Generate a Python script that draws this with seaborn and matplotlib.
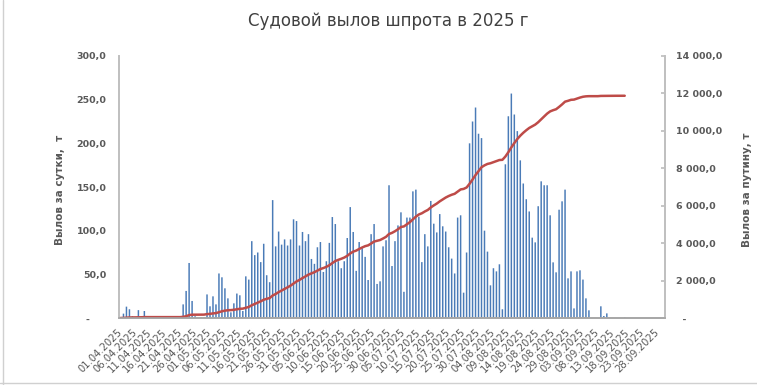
import numpy as np
import pandas as pd
import matplotlib
matplotlib.use("Agg")
import matplotlib.pyplot as plt
import seaborn as sns
from matplotlib.lines import Line2D

# ---- data (t per day), 01.04.2025 - 30.09.2025 ----
april = [0, 5, 13, 10, 2, 0, 9, 0, 8, 0, 0, 0, 0, 0, 0, 0, 0, 0, 0, 0,
         0, 15.6, 31, 63, 19.5, 2, 0, 1, 1, 27]
may = [13.4, 24.8, 15.6, 51, 46.6, 34, 22.5, 6.5, 16.8, 28,
       26, 8, 47.7, 44, 88, 72, 75, 64, 85, 49,
       41, 135, 82, 99, 84, 90, 83, 90, 113, 111, 83]
june = [98.5, 88, 96, 67.6, 62, 81, 87, 52.7, 65, 86,
        115.6, 107.6, 65, 57, 65, 91.6, 127, 98.5, 54, 87,
        80, 70, 43.5, 96, 107.6, 39, 42, 82, 89, 152]
july = [59.5, 88, 106, 121, 30, 115, 115, 145, 147, 116,
        64, 96, 82, 134, 108, 98, 119, 105, 99, 81,
        68, 51, 115, 117.6, 29, 75, 200, 225, 241, 211, 206]
august = [100, 76, 37.4, 57, 53.4, 61.5, 10, 176, 231, 257,
          233, 214, 180.5, 154, 136, 122, 92, 86.6, 128, 156.5,
          152, 152, 117.6, 63.7, 52.3, 124, 133.6, 147, 45.4, 53.4, 11]
september = [53.4, 54.6, 44, 22.5, 8.8, 0, 0, 0, 13.4, 2.3,
             5.3, 0, 0, 0, 0, 0, 1, 0, 0, 0,
             0, 0, 0, 0, 0, 0, 0, 0, 0, 0]

daily = np.array(april + may + june + july + august + september, dtype=float)
dates = pd.date_range("2025-04-01", periods=len(daily), freq="D")
date_labels = [d.strftime("%d.%m.%Y") for d in dates]
idx = np.arange(len(daily))

cumulative = np.cumsum(daily)
last_day = np.nonzero(daily)[0].max()
cumulative[last_day + 1:] = np.nan

df = pd.DataFrame({"day": idx, "daily": daily, "cum": cumulative})

title = "Судовой вылов шпрота в 2025 г"
left_label = "Вылов за сутки,  т"
right_label = "Вылов за путину, т"
left_ticks = [0, 50, 100, 150, 200, 250, 300]
right_ticks = [0, 2000, 4000, 6000, 8000, 10000, 12000, 14000]

# ---- style ----
sns.set_theme(style="white")
plt.rcParams["font.family"] = ["DejaVu Sans"]

BAR = "#4A7BB7"
LINE = "#BE4B48"
TXT = "#595959"
SPINE = "#BFBFBF"

fig = plt.figure(figsize=(7.57, 3.85), dpi=100)
ax = fig.add_axes([119 / 757, 1 - 318 / 385, (665 - 119) / 757, (318 - 56) / 385])

sns.barplot(data=df, x="day", y="daily", ax=ax, color=BAR, width=0.5,
            saturation=1, order=list(idx), errorbar=None, linewidth=0)
for p in ax.patches:
    p.set_snap(False)
    p.set_antialiased(True)
ax.set_xlim(-0.5, len(daily) - 0.5)
ax.set_ylim(0, 300)
ax.set_yticks(left_ticks)
ax.set_yticklabels([("-     " if v == 0 else f"{v:.1f}".replace(".", ",")) for v in left_ticks],
                   fontsize=6.8, fontweight="bold", color=TXT)
ax.set_xticks(idx[::5])
ax.set_xticklabels(date_labels[::5], rotation=45, ha="right", va="center",
                   rotation_mode="anchor", fontsize=7.2, color=TXT)
ax.tick_params(axis="x", length=0, pad=9)
ax.tick_params(axis="y", length=0, pad=9)
ax.set_xlabel("")
ax.set_ylabel("")

ax2 = ax.twinx()
sns.lineplot(data=df, x="day", y="cum", ax=ax2, color=LINE, linewidth=1.8)
ax2.set_ylim(0, 14000)
ax2.set_yticks(right_ticks)
def fmt_r(v):
    if v == 0:
        return "  -"
    s = f"{v:,.1f}".replace(",", " ").replace(".", ",")
    return s
ax2.set_yticklabels([fmt_r(v) for v in right_ticks], fontsize=6.8,
                    fontweight="bold", color=TXT)
ax2.tick_params(axis="y", length=3, direction="in", color=SPINE, pad=8)
ax2.set_ylabel("")
ax2.set_xlim(-0.5, len(daily) - 0.5)

for a in (ax, ax2):
    a.spines["top"].set_visible(False)
    a.spines["left"].set_color(SPINE)
    a.spines["right"].set_color(SPINE)
    a.spines["bottom"].set_color("#A6A6A6")
    a.spines["bottom"].set_linewidth(1.2)
    a.grid(False)

fig.text(0.513, 1 - 21 / 385, title, ha="center", va="center", fontsize=12,
         color="#404040")
fig.text(60 / 757, 0.506, left_label, rotation=90, ha="center", va="center",
         fontsize=7.5, fontweight="bold", color=TXT)
fig.text(747 / 757, 0.506, right_label, rotation=90, ha="center", va="center",
         fontsize=7.5, fontweight="bold", color=TXT)

# outer chart border
fig.add_artist(Line2D([2.5 / 757, 2.5 / 757], [0, 1], color="#D0D0D0", lw=1))
fig.add_artist(Line2D([0, 1], [2.5 / 385, 2.5 / 385], color="#D0D0D0", lw=1))

fig.savefig("out.png", dpi=100, facecolor="white")
